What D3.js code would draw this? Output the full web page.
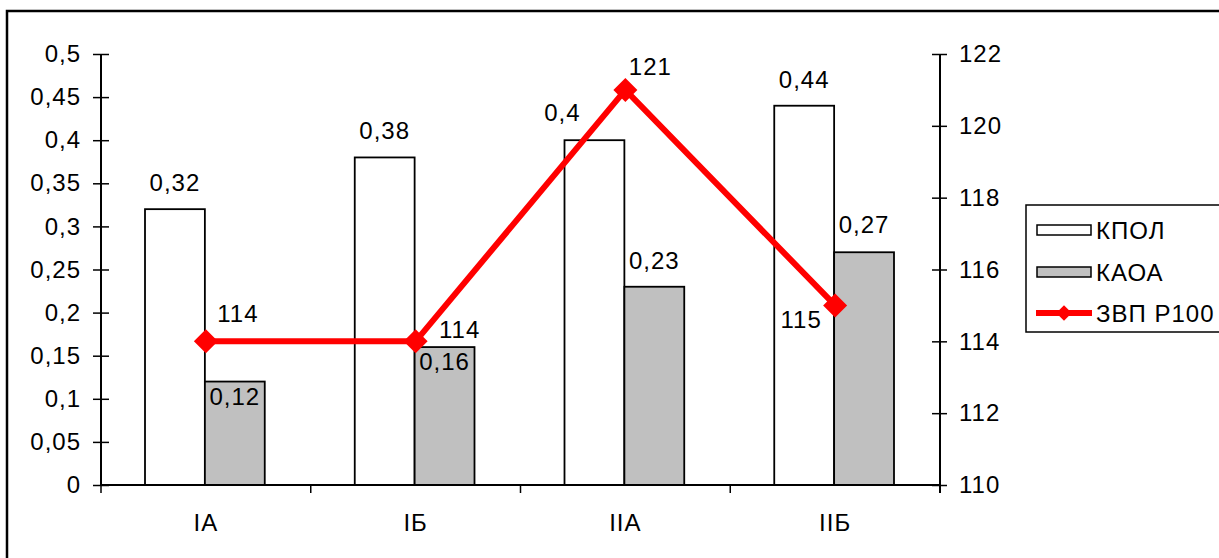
<!DOCTYPE html>
<html><head><meta charset="utf-8">
<script src="https://cdn.jsdelivr.net/npm/d3@7"></script>
<style>body{margin:0;background:#fff}svg{display:block}text{font-family:"Liberation Sans",Arial,sans-serif;fill:#000;letter-spacing:1px}</style>
</head><body><div id="c"></div>
<script>
const categories = ["IA", "IБ", "IIA", "IIБ"];
const seriesNames = ["КПОЛ", "КАОА"];
const kpol = [0.32, 0.38, 0.40, 0.44];
const kaoa = [0.12, 0.16, 0.23, 0.27];
const lineName = "ЗВП Р100";
const zvp = [114, 114, 121, 115];
const leftTicks = [0, 0.05, 0.1, 0.15, 0.2, 0.25, 0.3, 0.35, 0.4, 0.45, 0.5];
const rightTicks = [110, 112, 114, 116, 118, 120, 122];

const W = 1219, H = 558;
const svg = d3.select("#c").append("svg").attr("width", W).attr("height", H);
const FS = 24;
const fmt = v => String(v).replace(".", ",");

// outer frame
svg.append("rect").attr("x", 7).attr("y", 11).attr("width", 1240).attr("height", 600)
  .attr("fill", "none").attr("stroke", "#000").attr("stroke-width", 2.5);

const x0 = 101, x1 = 940, yTop = 54, yBot = 485;
const x = d3.scaleBand().domain(categories).range([x0, x1]).paddingInner(0).paddingOuter(0);
const xs = d3.scaleBand().domain(seriesNames).range([44, x.bandwidth() - 46]);
const yL = d3.scaleLinear().domain([0, 0.5]).range([yBot, yTop]);
const yR = d3.scaleLinear().domain([110, 122]).range([yBot, yTop]);

// bars
const data = categories.map((c, i) => ({c, vals: [kpol[i], kaoa[i]]}));
const fills = ["#FFFFFF", "#C0C0C0"];
const g = svg.append("g");
data.forEach(d => {
  d.vals.forEach((v, j) => {
    g.append("rect")
      .attr("x", x(d.c) + xs(seriesNames[j]))
      .attr("y", yL(v))
      .attr("width", xs.bandwidth())
      .attr("height", yBot - yL(v))
      .attr("fill", fills[j]).attr("stroke", "#000").attr("stroke-width", 1.8);
  });
});

// axes
const axL = svg.append("g").attr("transform", `translate(${x0},0)`)
  .call(d3.axisLeft(yL).tickValues(leftTicks).tickFormat(fmt).tickSize(8).tickPadding(12));
axL.selectAll(".tick line").attr("x1", 8);
const axR = svg.append("g").attr("transform", `translate(${x1},0)`)
  .call(d3.axisRight(yR).tickValues(rightTicks).tickSize(7).tickPadding(12));
axR.selectAll(".tick line").attr("x1", -8);
const axB = svg.append("g").attr("transform", `translate(0,${yBot})`)
  .call(d3.axisBottom(x).tickSize(0).tickPadding(29));
// category separators ticks
const sep = [x0, ...categories.slice(1).map(c => x(c)), x1];
axB.selectAll(".sep").data(sep).enter().append("line").attr("class", "sep")
  .attr("x1", d => d).attr("x2", d => d).attr("y1", 0).attr("y2", 8).attr("stroke", "#000").attr("stroke-width", 1.5);
[axL, axR, axB].forEach(a => {
  a.selectAll("path.domain").attr("stroke", "#000").attr("stroke-width", 2);
  a.selectAll(".tick line").attr("stroke", "#000").attr("stroke-width", 1.5);
  a.selectAll("text").style("font-size", FS + "px").style("font-family", '"Liberation Sans", Arial, sans-serif').attr("fill", "#000");
});
axL.select("path.domain").attr("d", `M0,${yTop}V${yBot}`);
axR.select("path.domain").attr("d", `M0,${yTop}V${yBot + 8}`);
axB.select("path.domain").attr("d", `M${x0},0H${x1}`);

// line
const cx = c => x(c) + x.bandwidth() / 2;
const pts = categories.map((c, i) => [cx(c), yR(zvp[i])]);
svg.append("path").attr("d", d3.line()(pts)).attr("fill", "none")
  .attr("stroke", "#FF0000").attr("stroke-width", 6).attr("stroke-linejoin", "miter");
const diamond = d3.symbol().type(d3.symbolSquare).size(17 * 17);
svg.selectAll(".mk").data(pts).enter().append("path")
  .attr("d", diamond).attr("transform", d => `translate(${d[0]},${d[1]}) rotate(45)`)
  .attr("fill", "#FF0000");

// value labels (offsets from mark position)
const kpolOff = [[0, -27], [0, -27], [-32, -28], [0, -26]];
const kaoaOff = [[0, 15], [0, 14], [0, -26], [0, -28]];
const zvpOff = [[32, -28], [44, -12], [25, -23], [-34, 14]];
const lbl = (tx, ty, t) => svg.append("text").attr("x", tx).attr("y", ty).attr("text-anchor", "middle")
  .attr("dominant-baseline", "central").style("font-size", FS + "px").text(t);
categories.forEach((c, i) => {
  const bx0 = x(c) + xs(seriesNames[0]) + xs.bandwidth() / 2;
  const bx1 = x(c) + xs(seriesNames[1]) + xs.bandwidth() / 2;
  lbl(bx0 + kpolOff[i][0], yL(kpol[i]) + kpolOff[i][1], fmt(kpol[i]));
  lbl(bx1 + kaoaOff[i][0], yL(kaoa[i]) + kaoaOff[i][1], fmt(kaoa[i]));
  lbl(pts[i][0] + zvpOff[i][0], pts[i][1] + zvpOff[i][1], zvp[i]);
});

// legend
const lg = svg.append("g");
lg.append("rect").attr("x", 1026).attr("y", 205).attr("width", 260).attr("height", 127)
  .attr("fill", "#fff").attr("stroke", "#000").attr("stroke-width", 1.5);
const ly = [230, 272, 313];
seriesNames.forEach((s, j) => {
  lg.append("rect").attr("x", 1037).attr("y", ly[j] - 5).attr("width", 54).attr("height", 10)
    .attr("fill", fills[j]).attr("stroke", "#000").attr("stroke-width", 1.5);
  lg.append("text").attr("x", 1096).attr("y", ly[j]).attr("dominant-baseline", "central")
    .style("font-size", FS + "px").text(s);
});
lg.append("line").attr("x1", 1036).attr("x2", 1092).attr("y1", ly[2]).attr("y2", ly[2])
  .attr("stroke", "#FF0000").attr("stroke-width", 6);
lg.append("path").attr("d", d3.symbol().type(d3.symbolSquare).size(11 * 11))
  .attr("transform", `translate(1064,${ly[2]}) rotate(45)`).attr("fill", "#FF0000");
lg.append("text").attr("x", 1096).attr("y", ly[2]).attr("dominant-baseline", "central")
  .style("font-size", FS + "px").text(lineName);
</script></body></html>
